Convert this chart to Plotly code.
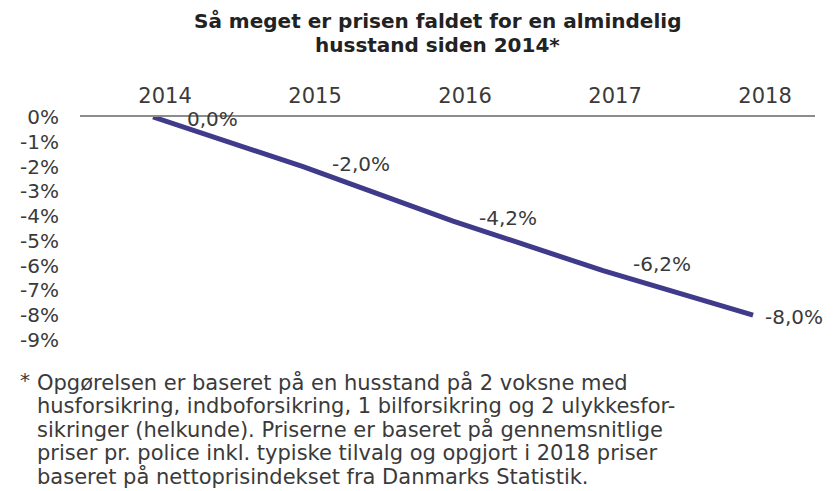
import plotly.graph_objects as go

# ---- data ----
years = [2014, 2015, 2016, 2017, 2018]
year_labels = ["2014", "2015", "2016", "2017", "2018"]
change_pct = [0.0, -2.0, -4.2, -6.2, -8.0]
value_labels = ["0,0%", "-2,0%", "-4,2%", "-6,2%", "-8,0%"]
y_ticks = [0, -1, -2, -3, -4, -5, -6, -7, -8, -9]
y_tick_labels = ["0%", "-1%", "-2%", "-3%", "-4%", "-5%", "-6%", "-7%", "-8%", "-9%"]

title_lines = ["Så meget er prisen faldet for en almindelig", "husstand siden 2014*"]
footnote_lines = [
    "Opgørelsen er baseret på en husstand på 2 voksne med",
    "husforsikring, indboforsikring, 1 bilforsikring og 2 ulykkesfor-",
    "sikringer (helkunde). Priserne er baseret på gennemsnitlige",
    "priser pr. police inkl. typiske tilvalg og opgjort i 2018 priser",
    "baseret på nettoprisindekset fra Danmarks Statistik.",
]

# ---- style / layout ----
FONT = "Verdana, DejaVu Sans, sans-serif"
TXT = "#3a3a3a"
LINE_COLOR = "#3f3a8a"
W, H = 839, 491
ML, MR, MT, MB = 80, 24, 117, 151
PW, PH = W - ML - MR, H - MT - MB


def px_x(p):
    return (p - ML) / PW


def px_y(p):
    return (H - MB - p) / PH


label_dx = [32, 27, 24, 28, 10]
label_dy = [-2, 3, 3, 7, -2]

fig = go.Figure()
fig.add_trace(go.Scatter(
    x=years, y=change_pct, mode="lines",
    line=dict(color=LINE_COLOR, width=5),
    hoverinfo="skip", showlegend=False,
))

annotations = []
for x, y, t, dx, dy in zip(years, change_pct, value_labels, label_dx, label_dy):
    annotations.append(dict(
        x=x, y=y, xref="x", yref="y", text=t, showarrow=False,
        xanchor="left", yanchor="middle", xshift=dx, yshift=dy,
        font=dict(family=FONT, size=20, color=TXT),
    ))

# title (two lines, tight spacing)
for i, line in enumerate(title_lines):
    annotations.append(dict(
        x=px_x(437), y=px_y(21 + i * 24), xref="paper", yref="paper",
        text="<b>" + line + "</b>", showarrow=False,
        xanchor="center", yanchor="middle", borderpad=0,
        font=dict(family=FONT, size=20, color="#222222"),
    ))

# footnote
annotations.append(dict(
    x=px_x(19), y=px_y(380), xref="paper", yref="paper", text="*",
    showarrow=False, xanchor="left", yanchor="middle", borderpad=0,
    font=dict(family=FONT, size=20, color=TXT),
))
for i, line in enumerate(footnote_lines):
    annotations.append(dict(
        x=px_x(36), y=px_y(382 + i * 23.5), xref="paper", yref="paper",
        text=line, showarrow=False, xanchor="left", yanchor="middle",
        borderpad=0,
        font=dict(family=FONT, size=21, color=TXT),
    ))

fig.update_layout(
    width=W, height=H,
    margin=dict(l=ML, r=MR, t=MT, b=MB),
    paper_bgcolor="white", plot_bgcolor="white",
    xaxis=dict(
        side="top", range=[2013.513, 2018.413],
        tickvals=years, ticktext=year_labels,
        showgrid=False, zeroline=False,
        showline=True, linecolor="#8c8c8c", linewidth=2,
        ticks="", ticklabelstandoff=4, ticklabelshift=12,
        tickfont=dict(family=FONT, size=21, color=TXT),
    ),
    yaxis=dict(
        range=[-9, 0], tickvals=y_ticks, ticktext=y_tick_labels,
        showgrid=False, zeroline=False, showline=False,
        ticks="", ticklabelstandoff=20,
        tickfont=dict(family=FONT, size=20, color=TXT),
    ),
    annotations=annotations,
)

fig.write_html(
    "out.html",
    config={"displayModeBar": False},
    post_script="document.body.style.margin='0';",
)
